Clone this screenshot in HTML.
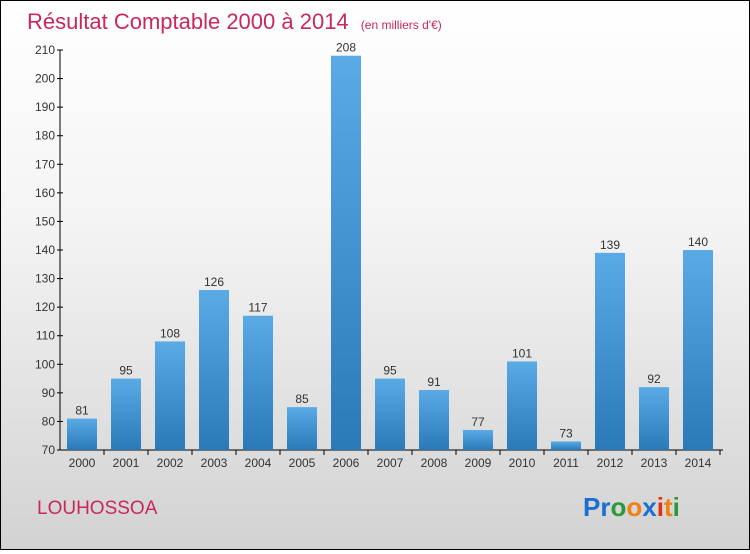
<!DOCTYPE html>
<html><head><meta charset="utf-8"><style>
html,body{margin:0;padding:0}
body{width:750px;height:550px;overflow:hidden;font-family:"Liberation Sans",sans-serif}
#wrap{position:relative;width:748px;height:548px;border:1px solid #000;background:linear-gradient(#ffffff 0%,#f4f4f4 40%,#d2d2d2 100%)}
</style></head><body>
<div id="wrap">
<svg width="748" height="548" viewBox="0 0 748 548" xmlns="http://www.w3.org/2000/svg">
<defs><linearGradient id="bg" x1="0" y1="0" x2="0" y2="1"><stop offset="0" stop-color="#5aaae6"/><stop offset="1" stop-color="#2a7ab8"/></linearGradient></defs>
<text x="26" y="28" font-size="22" fill="#c8285a">Résultat Comptable 2000 à 2014 <tspan font-size="12" dx="6">(en milliers d'€)</tspan></text>
<g id="axes"></g><g id="bars"></g>
<text x="36" y="513" font-size="19" fill="#c8285a">LOUHOSSOA</text>
<g font-size="26" font-weight="bold">
<text x="582" y="515"><tspan fill="#1a6fd0">Pr</tspan><tspan fill="#2a9a3a">o</tspan><tspan fill="#f08010">o</tspan><tspan fill="#1a6fd0">x</tspan><tspan fill="#e03010">i</tspan><tspan fill="#f08010">t</tspan><tspan fill="#2a9a3a">i</tspan></text>
</g>
</svg></div>
<script>
const years=["2000","2001","2002","2003","2004","2005","2006","2007","2008","2009","2010","2011","2012","2013","2014"];
const values=[81,95,108,126,117,85,208,95,91,77,101,73,139,92,140];
const yTicks=[70,80,90,100,110,120,130,140,150,160,170,180,190,200,210];
const NS="http://www.w3.org/2000/svg";
function y(v){return 449-(v-70)*(400/140);}
function x(i){return 81+i*44;}
function mk(t,a,p){const e=document.createElementNS(NS,t);for(const k in a)e.setAttribute(k,a[k]);p.appendChild(e);return e;}
const ax=document.getElementById('axes'),bs=document.getElementById('bars');
const yl=mk('line',{x1:59,y1:y(210),x2:59,y2:449,stroke:'#000'},ax);


const xl=mk('line',{x1:59,y1:449,x2:722,y2:449,stroke:'#000'},ax);


yTicks.forEach(v=>{
 mk('line',{x1:56,x2:62,y1:y(v),y2:y(v),stroke:'#000'},ax);
 const t=mk('text',{x:54,y:y(v)+4,'text-anchor':'end','font-size':12,fill:'#333'},ax);t.textContent=v;
 
 
});
years.forEach((yr,i)=>{
 const cx=x(i),v=values[i];
 const r=mk('rect',{x:cx-15,y:y(v),width:30,height:449-y(v),fill:'url(#bg)'},bs);
 
 
 const l=mk('text',{x:cx,y:y(v)-4,'text-anchor':'middle','font-size':12,fill:'#333'},bs);l.textContent=v;
 
 
 mk('line',{x1:cx+22,x2:cx+22,y1:449,y2:454,stroke:'#000'},ax);
 const t=mk('text',{x:cx,y:466,'text-anchor':'middle','font-size':12,fill:'#333'},ax);t.textContent=yr;
 
 
});
</script>
</body></html>
